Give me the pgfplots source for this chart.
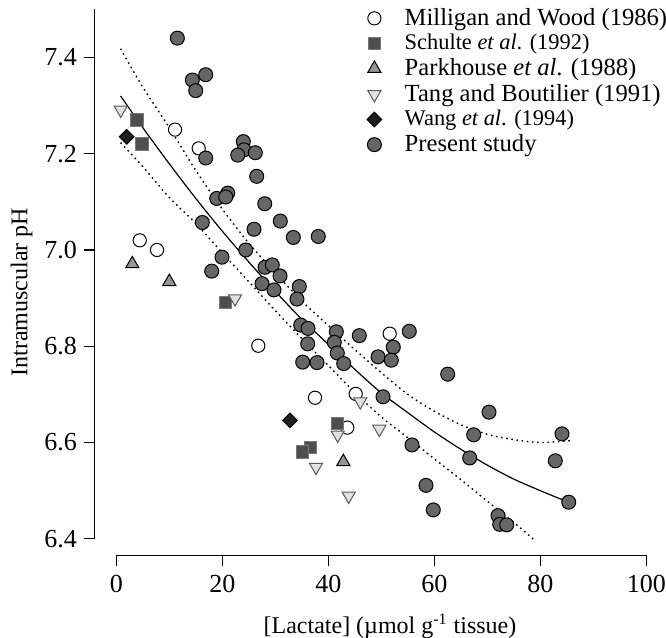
\documentclass[border=0pt]{standalone}
\usepackage{pgfplots}
\pgfplotsset{compat=1.18}
\usepackage{fontspec}
\setmainfont{Liberation Serif}
\definecolor{presentfill}{RGB}{102,102,102}
\definecolor{schultefill}{RGB}{78,78,78}
\definecolor{schulteedge}{RGB}{120,120,120}
\definecolor{parkfill}{RGB}{150,150,150}
\definecolor{tangfill}{RGB}{225,225,225}
\definecolor{tangedge}{RGB}{90,90,90}
\definecolor{wangfill}{RGB}{30,30,30}
\begin{document}
\begin{tikzpicture}
\path[use as bounding box] (-47.35pt,-41.25pt) rectangle (285.65pt,277.75pt);
\begin{axis}[
  at={(0,0)}, anchor=south west,
  scale only axis, width=275.8pt, height=273.6pt,
  xmin=-4.08, xmax=100, ymin=6.3653, ymax=7.502,
  axis line style={draw=none},
  clip=false,
  xtick={0,20,40,60,80,100},
  ytick={6.4,6.6,6.8,7.0,7.2,7.4},
  xtick pos=left, ytick pos=left,
  tick align=outside,
  major tick length=5.4pt,
  tick style={black, line width=0.6pt},
  /pgf/number format/assume math mode=true,
  yticklabel style={/pgf/number format/.cd, fixed, fixed zerofill, precision=1},
  xticklabel style={yshift=-1pt},
  tick label style={font=\fontsize{13}{15}\selectfont},
  label style={font=\fontsize{12}{14}\selectfont},
  xlabel={[Lactate] (µmol g\textsuperscript{-1} tissue)},
  ylabel={Intramuscular pH},
  xlabel style={at={([yshift=-35.25pt]axis description cs:0.5354,0)}, anchor=center},
  ylabel style={at={([xshift=-36.6pt]axis description cs:0,0.4815)}, anchor=center},
  legend cell align=left,
  legend style={draw=none, fill=none, at={(axis description cs:0.493,1.008)}, anchor=north west,
    font=\fontsize{12.3}{14}\selectfont, row sep=-1.1pt, column sep=9.5pt,
    inner sep=0pt},
  legend image code/.code={\draw[#1] plot coordinates {(0pt,0pt)};},
]
% regression line and confidence band
\addplot[black, line width=0.6pt, smooth, forget plot] coordinates {
(0.8,7.320) (5,7.254) (10,7.179) (15,7.107) (20,7.039) (25,6.975) (30,6.914) (35,6.856) (40,6.804) (45,6.752) (50,6.703) (55,6.662) (60,6.622) (65,6.586) (70,6.553) (75,6.524) (80,6.500) (85.3,6.476)};
\addplot[black, line width=0.7pt, dash pattern=on 0.8pt off 1.8pt, smooth, forget plot] coordinates {
(0.8,7.418) (5,7.338) (10,7.254) (15,7.165) (20,7.085) (25,7.014) (30,6.952) (35,6.894) (40,6.843) (45,6.793) (50,6.745) (55,6.700) (60,6.665) (65,6.637) (70,6.617) (75,6.606) (80,6.600) (85.6,6.604)};
\addplot[black, line width=0.7pt, dash pattern=on 0.8pt off 1.8pt, smooth, forget plot] coordinates {
(0.8,7.223) (5,7.173) (10,7.109) (15,7.055) (20,6.994) (25,6.934) (30,6.874) (35,6.816) (40,6.760) (45,6.704) (50,6.653) (55,6.610) (60,6.566) (65,6.523) (70,6.478) (75,6.434) (78.7,6.399)};
% Milligan and Wood (1986)
\addplot[only marks, mark=*, mark size=3.3pt, mark options={fill=white, draw=black, line width=0.5pt}] coordinates {
(11.08,7.250) (15.55,7.211) (4.42,7.020) (7.68,7.000) (26.79,6.801) (37.49,6.693) (45.17,6.701) (43.58,6.631) (51.58,6.826)};
\addlegendentry{Milligan and Wood (1986)}
% Schulte et al. (1992)
\addplot[only marks, mark=square*, mark size=3.1pt, mark options={fill=schultefill, draw=schulteedge, line width=0.5pt}] coordinates {
(3.91,7.270) (4.85,7.220) (20.64,6.891) (36.60,6.590) (35.17,6.580) (41.77,6.640)};
\addlegendentry{\fontsize{11.2}{13}\selectfont Schulte \textit{et al}. (1992)}
% Parkhouse et al. (1988)
\addplot[only marks, mark=triangle*, mark size=3.8pt, mark options={fill=parkfill, draw=black, line width=0.5pt}] coordinates {
(3.02,6.971) (10.0,6.934) (42.83,6.560)};
\addlegendentry{Parkhouse \textit{et al}. (1988)}
% Tang and Boutilier (1991)
\addplot[only marks, mark=triangle*, mark size=3.8pt, mark options={rotate=180, fill=tangfill, draw=tangedge, line width=0.5pt}] coordinates {
(0.83,7.291) (22.40,6.899) (37.68,6.549) (46.04,6.685) (41.77,6.616) (43.85,6.489) (49.62,6.628)};
\addlegendentry{Tang and Boutilier (1991)}
% Wang et al. (1994)
\addplot[only marks, mark=square*, mark size=2.6pt, mark options={rotate=45, fill=wangfill, draw=black, line width=0.5pt}] coordinates {
(1.96,7.235) (32.77,6.646)};
\addlegendentry{\fontsize{11.2}{13}\selectfont Wang \textit{et al}. (1994)}
% Present study
\addplot[only marks, mark=*, mark size=3.5pt, mark options={fill=presentfill, draw=black, line width=0.5pt}] coordinates {
(11.51,7.440) (16.87,7.364) (14.34,7.353) (14.98,7.331) (16.87,7.191) (23.96,7.225) (24.09,7.208) (22.91,7.197) (26.23,7.202) (26.49,7.153)
(28.00,7.096) (30.94,7.060) (25.98,7.043) (16.23,7.057) (18.94,7.107) (21.02,7.118) (20.64,7.110) (33.40,7.026) (38.11,7.028) (24.42,7.000)
(19.94,6.985) (18.00,6.956) (28.06,6.964) (29.43,6.969) (30.89,6.946) (27.49,6.930) (29.75,6.917) (34.53,6.924) (34.09,6.898) (34.79,6.844)
(36.17,6.837) (36.11,6.805) (35.17,6.767) (37.87,6.766) (41.51,6.830) (41.13,6.808) (41.70,6.786) (42.91,6.764) (45.85,6.822) (55.28,6.831)
(52.26,6.798) (49.38,6.778) (51.89,6.771) (50.32,6.695) (62.53,6.742) (70.32,6.663) (67.43,6.616) (55.79,6.595) (66.68,6.568) (84.09,6.618)
(82.83,6.562) (85.36,6.476) (58.43,6.511) (59.81,6.460) (72.02,6.448) (72.34,6.430) (73.66,6.429)};
\addlegendentry{Present study}
% axis lines
\draw[black, line width=0.6pt] (axis cs:0,6.3653) -- (axis cs:100,6.3653);
\draw[black, line width=0.6pt] (axis cs:-4.08,6.4) -- (axis cs:-4.08,7.5);
\end{axis}
\end{tikzpicture}
\end{document}
